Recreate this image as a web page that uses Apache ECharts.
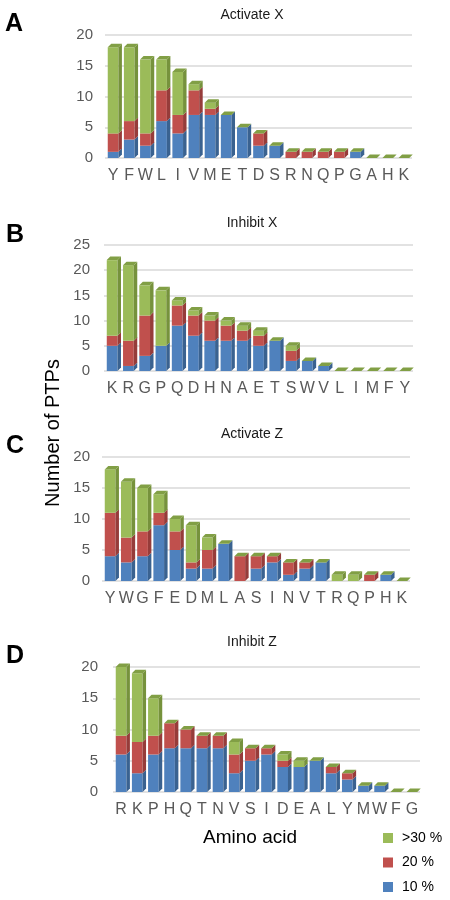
<!DOCTYPE html>
<html>
<head>
<meta charset="utf-8">
<script src="https://cdn.jsdelivr.net/npm/echarts@6/dist/echarts.min.js"></script>
<style>html,body{margin:0;padding:0;background:#fff;}#main{width:450px;height:900px;}</style>
</head>
<body>
<div id="main"></div>
<script>
// ---- Data ----
const catsA  = ['Y','F','W','L','I','V','M','E','T','D','S','R','N','Q','P','G','A','H','K'];
const blueA  = [1,3,2,6,4,7,7,7,5,2,2,0,0,0,0,1,0,0,0];
const redA   = [3,3,2,5,3,4,1,0,0,2,0,1,1,1,1,0,0,0,0];
const greenA = [14,12,12,5,7,1,1,0,0,0,0,0,0,0,0,0,0,0,0];

const catsB  = ['K','R','G','P','Q','D','H','N','A','E','T','S','W','V','L','I','M','F','Y'];
const blueB  = [5,1,3,5,9,7,6,6,6,5,6,2,2,1,0,0,0,0,0];
const redB   = [2,5,8,0,4,4,4,3,2,2,0,2,0,0,0,0,0,0,0];
const greenB = [15,15,6,11,1,1,1,1,1,1,0,1,0,0,0,0,0,0,0];

const catsC  = ['Y','W','G','F','E','D','M','L','A','S','I','N','V','T','R','Q','P','H','K'];
const blueC  = [4,3,4,9,5,2,2,6,0,2,3,1,2,3,0,0,0,1,0];
const redC   = [7,4,4,2,3,1,3,0,4,2,1,2,1,0,0,0,1,0,0];
const greenC = [7,9,7,3,2,6,2,0,0,0,0,0,0,0,1,1,0,0,0];

const catsD  = ['R','K','P','H','Q','T','N','V','S','I','D','E','A','L','Y','M','W','F','G'];
const blueD  = [6,3,6,7,7,7,7,3,5,6,4,4,5,3,2,1,1,0,0];
const redD   = [3,5,3,4,3,2,2,3,2,1,1,0,0,1,1,0,0,0,0];
const greenD = [11,11,6,0,0,0,0,2,0,0,1,1,0,0,0,0,0,0,0];

const titles = ['Activate X','Inhibit X','Activate Z','Inhibit Z'];
const letters = ['A','B','C','D'];
const yMax = [20,25,20,20];
const seriesNames = ['10 %','20 %','>30 %'];

// ---- Styling ----
const FONT = 'Liberation Sans, Arial, sans-serif';
const front = ['#4F81BD','#C0504D','#9BBB59'];
const side  = ['#3A6290','#963C3A','#76923C'];
const topC  = '#819F45';
const DEPTH = 3.5;

const panels = [
  {cats:catsA, layers:[blueA,redA,greenA], grid:{left:105,width:307,top:35,height:123}, lm:12, title:[252,15], letter:[14,24]},
  {cats:catsB, layers:[blueB,redB,greenB], grid:{left:104,width:309,top:245,height:126}, lm:14, title:[252,223], letter:[15,235]},
  {cats:catsC, layers:[blueC,redC,greenC], grid:{left:102,width:308,top:457,height:124}, lm:12, title:[252,434], letter:[15,446]},
  {cats:catsD, layers:[blueD,redD,greenD], grid:{left:113,width:307,top:667,height:125}, lm:15, title:[252,642], letter:[15,656]}
];

function makeRender(layer) {
  return function (params, api) {
    const x = api.value(0), v = api.value(1), base = api.value(2);
    const p0 = api.coord([x, base]);
    const p1 = api.coord([x, base + v]);
    const bw = api.size([1, 0])[0] * 0.66;
    const xl = p0[0] - bw / 2, xr = p0[0] + bw / 2;
    const d = DEPTH;
    const children = [];
    if (v > 0) {
      children.push({type:'rect', shape:{x:xl, y:p1[1], width:bw, height:p0[1]-p1[1]}, style:{fill:front[layer]}});
      children.push({type:'polygon', shape:{points:[[xr,p1[1]],[xr+d,p1[1]-d],[xr+d,p0[1]-d],[xr,p0[1]]]}, style:{fill:side[layer]}});
    }
    if (layer === 2) {
      children.push({type:'polygon', shape:{points:[[xl,p1[1]],[xl+d,p1[1]-d],[xr+d,p1[1]-d],[xr,p1[1]]]}, style:{fill:topC}});
    }
    return {type:'group', children};
  };
}

const grids = [], xAxes = [], yAxes = [], series = [], graphics = [];
panels.forEach((p, i) => {
  grids.push(p.grid);
  xAxes.push({
    type:'category', gridIndex:i, data:p.cats,
    axisLine:{show:false}, axisTick:{show:false}, splitLine:{show:false},
    axisLabel:{color:'#595959', fontSize:16, fontFamily:FONT, margin:10, interval:0}
  });
  yAxes.push({
    type:'value', gridIndex:i, min:0, max:yMax[i], interval:5,
    axisLine:{show:false}, axisTick:{show:false},
    axisLabel:{color:'#595959', fontSize:15, fontFamily:FONT, margin:p.lm},
    splitLine:{lineStyle:{color:'#D9D9D9', width:1.5}}
  });
  p.layers.forEach((vals, k) => {
    const data = vals.map((v, j) => {
      let base = 0;
      for (let m = 0; m < k; m++) base += p.layers[m][j];
      return [j, v, base];
    });
    series.push({
      type:'custom', name:seriesNames[k], xAxisIndex:i, yAxisIndex:i,
      renderItem:makeRender(k), data:data, itemStyle:{color:front[k]},
      encode:{x:0, y:[1,2]}, z:2 + k, silent:true
    });
  });
  graphics.push({type:'text', x:p.title[0], y:p.title[1], style:{text:titles[i], font:'14px ' + FONT, fill:'#1a1a1a', textAlign:'center', textVerticalAlign:'middle'}});
  graphics.push({type:'text', x:p.letter[0], y:p.letter[1], style:{text:letters[i], font:'bold 25px ' + FONT, fill:'#000', textAlign:'center', textVerticalAlign:'middle'}});
});

graphics.push({type:'text', x:250, y:838, style:{text:'Amino acid', font:'19px ' + FONT, fill:'#000', textAlign:'center', textVerticalAlign:'middle'}});
graphics.push({type:'text', x:53, y:433, rotation:Math.PI/2, style:{text:'Number of PTPs', font:'20px ' + FONT, fill:'#000', textAlign:'center', textVerticalAlign:'middle'}});

const chart = echarts.init(document.getElementById('main'), null, {renderer:'canvas'});
chart.setOption({
  animation:false,
  backgroundColor:'#fff',
  grid:grids, xAxis:xAxes, yAxis:yAxes, series:series,
  graphic:graphics,
  legend:{
    data:['>30 %','20 %','10 %'], orient:'vertical', left:383, top:831, padding:0,
    icon:'rect', itemWidth:10, itemHeight:10, itemGap:10.5,
    textStyle:{fontSize:14, fontFamily:FONT, color:'#000', lineHeight:14, padding:[0,0,0,4]},
    selectedMode:false
  }
});
</script>
</body>
</html>
